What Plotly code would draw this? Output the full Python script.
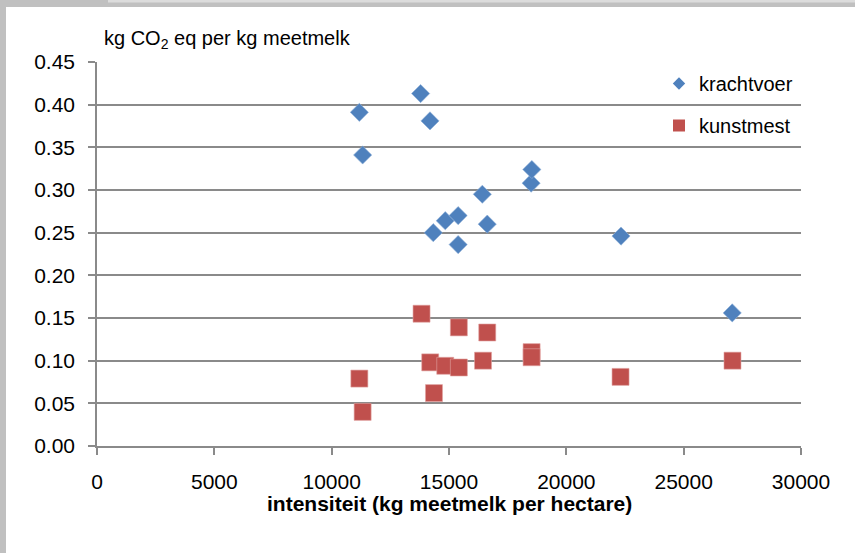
import plotly.graph_objects as go

# Data
krachtvoer_x = [11180, 11320, 13790, 14190, 14330, 14840, 15390, 15390, 16420, 16630, 18500, 18530, 22330, 27070]
krachtvoer_y = [0.391, 0.341, 0.413, 0.381, 0.250, 0.264, 0.270, 0.236, 0.295, 0.260, 0.308, 0.324, 0.246, 0.156]

kunstmest_x = [11180, 11320, 13830, 14200, 14360, 14840, 15420, 15420, 16450, 16630, 18520, 18520, 22310, 27080]
kunstmest_y = [0.079, 0.040, 0.155, 0.098, 0.062, 0.094, 0.139, 0.092, 0.100, 0.133, 0.110, 0.104, 0.081, 0.100]

x_ticks = [0, 5000, 10000, 15000, 20000, 25000, 30000]
y_ticks = [0.00, 0.05, 0.10, 0.15, 0.20, 0.25, 0.30, 0.35, 0.40, 0.45]

series_names = ["krachtvoer", "kunstmest"]

BLUE = "#4F81BD"
RED = "#C0504D"
GRID = "#8a8a8a"
FONT = "Liberation Sans, Arial, sans-serif"

W, H = 855, 553
L, R, T, B = 97, 54, 62, 107
pw, ph = W - L - R, H - T - B


def px_x(p):
    return (p - L) / pw


def px_y(p):
    return (H - B - p) / ph


fig = go.Figure()

fig.add_trace(go.Scatter(
    x=krachtvoer_x, y=krachtvoer_y, mode="markers", showlegend=False,
    marker=dict(symbol="diamond", size=14, color=BLUE,
                line=dict(width=0.6, color="#8fb0d8")),
))
fig.add_trace(go.Scatter(
    x=kunstmest_x, y=kunstmest_y, mode="markers", showlegend=False,
    marker=dict(symbol="square", size=17, color=RED,
                line=dict(width=0.6, color="#e0a3a1")),
))

# legend entries (small markers like the reference legend)
fig.add_trace(go.Scatter(
    x=[None], y=[None], mode="markers", name=series_names[0], legendgroup="a",
    marker=dict(symbol="diamond", size=9.5, color=BLUE),
))
fig.add_trace(go.Scatter(
    x=[None], y=[None], mode="markers", name=series_names[1], legendgroup="b",
    marker=dict(symbol="square", size=12, color=RED),
))

fig.update_layout(
    width=W, height=H,
    margin=dict(l=L, r=R, t=T, b=B, pad=0),
    paper_bgcolor="white", plot_bgcolor="white",
    font=dict(family=FONT, size=20, color="black"),
    legend=dict(
        x=px_x(659), y=px_y(64), xanchor="left", yanchor="top",
        bgcolor="rgba(0,0,0,0)", font=dict(size=20, family=FONT),
        tracegroupgap=13, itemwidth=30,
    ),
    xaxis=dict(
        range=[0, 30000], tickvals=x_ticks, ticktext=[str(v) for v in x_ticks],
        showgrid=False, zeroline=False,
        showline=True, linecolor=GRID, linewidth=1.5,
        ticks="outside", ticklen=7, tickcolor=GRID, tickwidth=1.5,
        tickfont=dict(size=21, family=FONT), ticklabelstandoff=9,
    ),
    yaxis=dict(
        range=[0, 0.45], tickvals=y_ticks, ticktext=[f"{v:.2f}" for v in y_ticks],
        showgrid=True, gridcolor=GRID, gridwidth=1.5, zeroline=False,
        showline=True, linecolor=GRID, linewidth=1.5,
        ticks="outside", ticklen=7, tickcolor=GRID, tickwidth=1.5,
        tickfont=dict(size=21, family=FONT), ticklabelstandoff=9,
    ),
    annotations=[
        dict(text="kg CO<sub>2</sub> eq per kg meetmelk", xref="paper", yref="paper",
             x=px_x(102), y=px_y(40), xanchor="left", yanchor="middle",
             showarrow=False, font=dict(size=20, family=FONT)),
        dict(text="<b>intensiteit (kg meetmelk per hectare)</b>", xref="paper", yref="paper",
             x=0.5, y=px_y(503), xanchor="center", yanchor="middle",
             showarrow=False, font=dict(size=21, family=FONT)),
    ],
    shapes=[
        dict(type="rect", xref="paper", yref="paper", layer="above",
             x0=px_x(0), x1=px_x(6), y0=px_y(553), y1=px_y(0),
             fillcolor="#c0c0c0", line=dict(width=0)),
        dict(type="rect", xref="paper", yref="paper", layer="above",
             x0=px_x(0), x1=px_x(855), y0=px_y(7), y1=px_y(0),
             fillcolor="#c0c0c0", line=dict(width=0)),
        dict(type="rect", xref="paper", yref="paper", layer="above",
             x0=px_x(108), x1=px_x(855), y0=px_y(2.5), y1=px_y(0),
             fillcolor="#dcdcdc", line=dict(width=0)),
    ],
)

fig.write_html("out.html", config={"displayModeBar": False},
               post_script="document.body.style.margin='0';")
